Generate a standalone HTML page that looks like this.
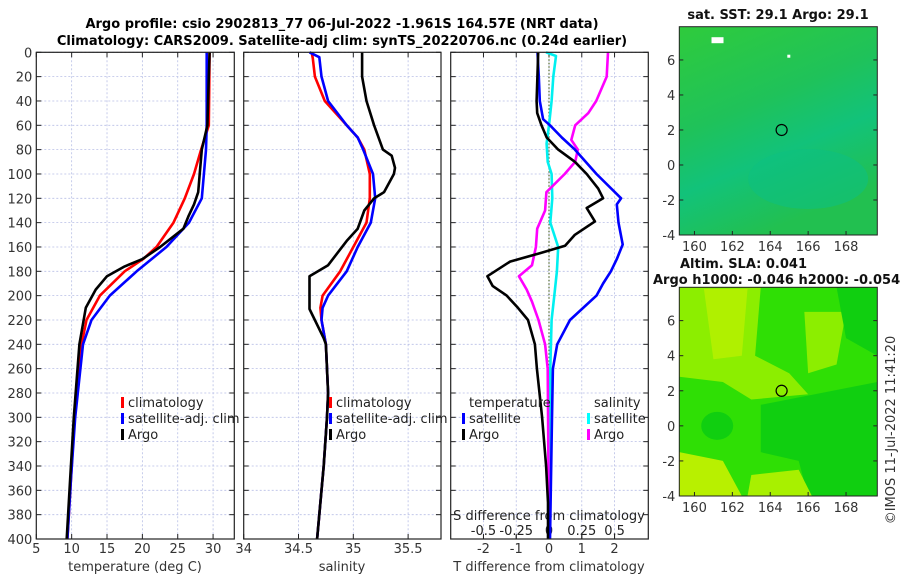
<!DOCTYPE html>
<html><head><meta charset="utf-8"><style>
body{margin:0;background:#fff;width:900px;height:580px;overflow:hidden}
svg{display:block;font-family:"DejaVu Sans","Liberation Sans",sans-serif}
</style></head><body>
<svg id="c" width="900" height="580" viewBox="0 0 900 580">
<text x="342" y="28" font-size="13" font-weight="bold" text-anchor="middle">Argo profile: csio 2902813_77 06-Jul-2022 -1.961S 164.57E (NRT data)</text>
<text x="342" y="45" font-size="13" font-weight="bold" text-anchor="middle">Climatology: CARS2009. Satellite-adj clim: synTS_20220706.nc (0.24d earlier)</text>
</svg>
<script>
// ---- data ----
const depthTicks=[0,20,40,60,80,100,120,140,160,180,200,220,240,260,280,300,320,340,360,380,400];
const tTicks=[5,10,15,20,25,30];
const sTicks=[34,34.5,35,35.5];
const dTTicks=[-2,-1,0,1,2];
const dSTicks=[-0.5,-0.25,0,0.25,0.5];
const dSTickLabels=["-0.5","-0.25","0","0.25","0.5"];
const lonTicks=[160,162,164,166,168];
const latTicks=[-4,-2,0,2,4,6];

const tClimD=[0,60,80,100,120,140,160,170,180,200,220,240,300,350,400];
const tClimV=[29.5,29.4,28.3,27.3,26.0,24.4,22.0,20.1,17.5,14.0,12.1,11.4,10.4,9.9,9.4];
const tSatD=[0,60,80,100,120,140,160,180,200,220,240,300,350,400];
const tSatV=[29.1,29.1,29.0,28.7,28.4,26.6,23.4,19.2,15.4,12.8,11.6,10.5,9.9,9.4];
const tArgoD=[0,20,40,60,80,100,115,125,135,145,160,170,176,184,195,210,240,300,350,400];
const tArgoV=[29.5,29.4,29.3,29.2,28.4,28.1,27.9,27.3,26.5,25.8,22.5,20.0,17.5,15.0,13.4,12.0,11.1,10.3,9.8,9.3];

const sClimD=[0,5,20,40,60,70,80,100,120,140,160,180,200,210,220,240,260,280,300,340,400];
const sClimV=[34.62,34.63,34.65,34.74,34.94,35.04,35.10,35.15,35.15,35.12,35.00,34.88,34.72,34.70,34.71,34.75,34.76,34.77,34.76,34.73,34.67];
const sSatD=[0,4,20,40,60,70,80,100,120,140,160,180,200,210,220,240,260,280,300,340,400];
const sSatV=[34.60,34.69,34.71,34.77,34.94,35.04,35.09,35.18,35.20,35.16,35.04,34.94,34.77,34.72,34.71,34.75,34.76,34.77,34.76,34.73,34.67];
const sArgoD=[0,20,40,60,80,85,95,100,115,120,130,145,155,175,184,211,235,240,260,280,300,340,400];
const sArgoV=[35.08,35.08,35.12,35.19,35.27,35.35,35.38,35.37,35.28,35.19,35.10,35.04,34.94,34.77,34.60,34.60,34.73,34.75,34.76,34.77,34.76,34.73,34.67];

const dtSatD=[0,20,40,55,60,70,80,100,120,125,140,158,170,180,190,200,220,240,260,300,400];
const dtSatV=[-0.35,-0.31,-0.28,-0.18,0.03,0.39,0.79,1.45,2.2,2.07,2.12,2.25,2.07,1.89,1.65,1.45,0.64,0.25,0.12,0.09,0.03];
const dtArgoD=[0,40,50,60,70,80,90,100,112,120,128,139,150,159,165,172,184,192,200,210,220,240,260,300,340,370,400];
const dtArgoV=[-0.33,-0.38,-0.36,-0.23,-0.07,0.28,0.79,1.15,1.5,1.65,1.15,1.4,0.79,0.49,-0.27,-1.19,-1.88,-1.72,-1.29,-0.95,-0.64,-0.43,-0.37,-0.21,-0.09,-0.03,-0.03];
const dsSatD=[0,3,20,40,60,75,90,100,120,140,160,180,200,220,260,400];
const dsSatV=[-0.023,0.053,0.033,0.02,0.0,-0.018,-0.01,0.02,0.025,0.01,0.07,0.06,0.04,0.02,0.01,0.0];
const dsArgoD=[0,20,40,50,60,72,80,90,100,115,130,145,160,175,184,195,205,220,240,260,400];
const dsArgoV=[0.45,0.44,0.36,0.3,0.2,0.17,0.22,0.2,0.12,-0.02,-0.03,-0.09,-0.1,-0.13,-0.23,-0.17,-0.13,-0.08,-0.03,-0.01,0.0];

// ---- drawing ----
const svg=document.getElementById('c');
const NS='http://www.w3.org/2000/svg';
function mk(tag,attrs,parent){const e=document.createElementNS(NS,tag);for(const k in attrs)e.setAttribute(k,attrs[k]);(parent||svg).appendChild(e);return e;}
const Y0=52.3,Y1=539;
const yD=d=>Y0+(d/400)*(Y1-Y0);
const panels=[
 {x0:36.3,x1:234.3,lo:5,hi:33,name:'temperature-panel'},
 {x0:243.7,x1:441,lo:34,hi:35.8,name:'salinity-panel'},
 {x0:450.7,x1:648.3,lo:-3,hi:3.03,name:'difference-panel'}];
panels.forEach(p=>{p.sx=v=>p.x0+(v-p.lo)/(p.hi-p.lo)*(p.x1-p.x0);});
const sxS=v=>panels[2].sx(v*4);

panels.forEach((p,i)=>{
 const g=mk('g',{});
 
 
 const vt=i==0?tTicks:i==1?sTicks:dTTicks;
 depthTicks.forEach(d=>{
  const l=mk('line',{x1:p.x0,x2:p.x1,y1:yD(d),y2:yD(d),stroke:'#b8bfe6','stroke-width':0.8,'stroke-dasharray':'2,2'},g);
  
  mk('line',{x1:p.x0,x2:p.x0+5,y1:yD(d),y2:yD(d),stroke:'#222'},g);
  mk('line',{x1:p.x1-5,x2:p.x1,y1:yD(d),y2:yD(d),stroke:'#222'},g);
  if(i==0){const t=mk('text',{x:p.x0-4,y:yD(d)+5,'font-size':13,'text-anchor':'end',fill:'#333'},g);t.textContent=d;
   }
 });
 vt.forEach(v=>{
  const x=p.sx(v);
  if(x>p.x0+1){mk('line',{x1:x,x2:x,y1:Y0,y2:Y1,stroke:'#b8bfe6','stroke-width':0.8,'stroke-dasharray':'2,2'},g);}
  mk('line',{x1:x,x2:x,y1:Y1,y2:Y1-5,stroke:'#222'},g);
  mk('line',{x1:x,x2:x,y1:Y0,y2:Y0+5,stroke:'#222'},g);
  const t=mk('text',{x:x,y:553,'font-size':13,'text-anchor':'middle',fill:'#333'},g);t.textContent=v;
  
 });
});
dSTicks.forEach((v,k)=>{const x=sxS(v);
 mk('line',{x1:x,x2:x,y1:Y1,y2:Y1-4,stroke:'#222'});
 const t=mk('text',{x:x,y:535,'font-size':13,'text-anchor':'middle',fill:'#222'});t.textContent=dSTickLabels[k];
 });
{const t=mk('text',{x:549,y:520,'font-size':13,'text-anchor':'middle',fill:'#222'});t.textContent='S difference from climatology';
 }
mk('line',{x1:549,x2:549,y1:Y0,y2:Y1,stroke:'#556b2f','stroke-width':1.2,'stroke-dasharray':'1.5,2'});

function series(D,V,sx,color,name){
 const pts=D.map((d,k)=>sx(V[k]).toFixed(1)+','+yD(d).toFixed(1)).join(' ');
 const e=mk('polyline',{points:pts,fill:'none',stroke:color,'stroke-width':2.6,'stroke-linejoin':'round'});
 
 
}
const P=panels;
series(tClimD,tClimV,P[0].sx,'#ff0000','temp-climatology-line');
series(tSatD,tSatV,P[0].sx,'#0000ff','temp-satellite-line');
series(tArgoD,tArgoV,P[0].sx,'#000','temp-argo-line');
series(sClimD,sClimV,P[1].sx,'#ff0000','sal-climatology-line');
series(sSatD,sSatV,P[1].sx,'#0000ff','sal-satellite-line');
series(sArgoD,sArgoV,P[1].sx,'#000','sal-argo-line');
series(dsSatD,dsSatV,sxS,'#00f0f0','sdiff-satellite-line');
series(dsArgoD,dsArgoV,sxS,'#ff00ff','sdiff-argo-line');
series(dtSatD,dtSatV,P[2].sx,'#0000ff','tdiff-satellite-line');
series(dtArgoD,dtArgoV,P[2].sx,'#000','tdiff-argo-line');

panels.forEach(p=>{const r=mk('rect',{x:p.x0,y:Y0,width:p.x1-p.x0,height:Y1-Y0,fill:'none',stroke:'#222','stroke-width':1.2});
 });

[['temperature (deg C)',135],['salinity',342],['T difference from climatology',549]].forEach(a=>{
 const t=mk('text',{x:a[1],y:571,'font-size':13,'text-anchor':'middle',fill:'#333'});t.textContent=a[0];
 });

function legend(x,y,items,title){
 const g=mk('g',{});
 
 
 let yy=y;
 if(title){const t=mk('text',{x:x+7,y:yy,'font-size':13,fill:'#222'},g);t.textContent=title;yy+=16;}
 items.forEach(it=>{mk('rect',{x:x,y:yy-10,width:3,height:11,fill:it[1]},g);
  const t=mk('text',{x:x+7,y:yy,'font-size':13,fill:'#222'},g);t.textContent=it[0];
  yy+=16;});
}
legend(121,407,[['climatology','#f00'],['satellite-adj. clim','#00f'],['Argo','#000']]);
legend(329,407,[['climatology','#f00'],['satellite-adj. clim','#00f'],['Argo','#000']]);
legend(462,407,[['satellite','#00f'],['Argo','#000']],'temperature');
legend(587,407,[['satellite','#0ff'],['Argo','#f0f']],'salinity');

// maps
const MX0=679.3,MX1=877.3,LON0=159.2,LON1=169.65;
const mx=l=>MX0+(l-LON0)/(LON1-LON0)*(MX1-MX0);
function map(top,bot,name,draw){
 const LAT1=7.9,LAT0=-4;const my=l=>top+(LAT1-l)/(LAT1-LAT0)*(bot-top);
 const g=mk('g',{});
 draw(g,my);
 mk('circle',{cx:mx(164.6),cy:my(2),r:5.5,fill:'none',stroke:'#000','stroke-width':1.2},g);
 mk('rect',{x:MX0,y:top,width:MX1-MX0,height:bot-top,fill:'none',stroke:'#222','stroke-width':1},g);
 lonTicks.forEach(v=>{const x=mx(v);mk('line',{x1:x,x2:x,y1:bot,y2:bot-4,stroke:'#222'},g);
  const t=mk('text',{x:x,y:bot+16,'font-size':13,'text-anchor':'middle',fill:'#333'},g);t.textContent=v;
  });
 latTicks.forEach(v=>{const y=my(v);mk('line',{x1:MX0,x2:MX0+4,y1:y,y2:y,stroke:'#222'},g);
  mk('line',{x1:MX1-4,x2:MX1,y1:y,y2:y,stroke:'#222'},g);
  const t=mk('text',{x:MX0-4,y:y+5,'font-size':13,'text-anchor':'end',fill:'#333'},g);t.textContent=v;
  });
}
const defs=mk('defs',{});
const lg=mk('linearGradient',{id:'sst',x1:0,y1:0,x2:0.4,y2:1},defs);
mk('stop',{offset:0,'stop-color':'#2fcb3c'},lg);mk('stop',{offset:0.45,'stop-color':'#1fc25a'},lg);
mk('stop',{offset:0.7,'stop-color':'#12c27a'},lg);mk('stop',{offset:1,'stop-color':'#22c050'},lg);
map(26.7,235,'sst-map',(g,my)=>{
 mk('rect',{x:MX0,y:26.7,width:MX1-MX0,height:208.3,fill:'url(#sst)'},g);
 mk('ellipse',{cx:mx(166),cy:my(-0.8),rx:60,ry:30,fill:'#0dbf80',opacity:0.6},g);
 mk('rect',{x:mx(160.9),y:my(7.3),width:12,height:6,fill:'#fff'},g);
 mk('rect',{x:mx(164.9),y:my(6.3),width:3,height:3,fill:'#fff'},g);
});
map(287.3,496,'sla-map',(g,my)=>{
 mk('rect',{x:MX0,y:287.3,width:MX1-MX0,height:208.7,fill:'#2fdf05'},g);
 mk('path',{d:`M${mx(159.2)} ${my(7.9)} L${mx(163.5)} ${my(7.9)} L${mx(163.2)} ${my(4)} L${mx(165)} ${my(3)} L${mx(166)} ${my(1.8)} L${mx(163)} ${my(1.5)} L${mx(161.5)} ${my(2.5)} L${mx(159.2)} ${my(2.8)}Z`,fill:'#8cee00'},g);
 mk('path',{d:`M${mx(160.5)} ${my(7.8)} L${mx(162.8)} ${my(7.8)} L${mx(162.5)} ${my(4)} L${mx(161)} ${my(3.8)}Z`,fill:'#b0f000'},g);
 mk('path',{d:`M${mx(165.8)} ${my(6.5)} L${mx(168)} ${my(6.5)} L${mx(167.5)} ${my(3.5)} L${mx(166)} ${my(3)}Z`,fill:'#8cee00'},g);
 mk('path',{d:`M${mx(163.5)} ${my(1.2)} L${mx(169.65)} ${my(2.5)} L${mx(169.65)} ${my(-4)} L${mx(166)} ${my(-4)} L${mx(165.5)} ${my(-2)} L${mx(163.5)} ${my(-1.5)}Z`,fill:'#10cf10'},g);
 mk('path',{d:`M${mx(167.5)} ${my(7.9)} L${mx(169.65)} ${my(7.9)} L${mx(169.65)} ${my(4)} L${mx(168)} ${my(5)}Z`,fill:'#10cf10'},g);
 mk('ellipse',{cx:mx(161.2),cy:my(0),rx:16,ry:14,fill:'#10cf10'},g);
 mk('path',{d:`M${mx(159.2)} ${my(-1.5)} L${mx(161.5)} ${my(-2)} L${mx(162.5)} ${my(-4)} L${mx(159.2)} ${my(-4)}Z`,fill:'#b8f000'},g);
 mk('path',{d:`M${mx(163)} ${my(-2.8)} L${mx(165.5)} ${my(-2.5)} L${mx(166.2)} ${my(-4)} L${mx(162.8)} ${my(-4)}Z`,fill:'#a8f000'},g);
});
[['sat. SST: 29.1 Argo: 29.1',778,19],['Altim. SLA: 0.041',680,268],['Argo h1000: -0.046 h2000: -0.054',653,284]].forEach((a,k)=>{
 const t=mk('text',{x:a[1],y:a[2],'font-size':13,'font-weight':'bold','text-anchor':k==0?'middle':'start',fill:'#111'});t.textContent=a[0];
 });
{const t=mk('text',{x:0,y:0,'font-size':13,'text-anchor':'middle',fill:'#333',transform:'translate(895,430) rotate(-90)'});
 t.textContent='©IMOS 11-Jul-2022 11:41:20';}
</script>
</body></html>
